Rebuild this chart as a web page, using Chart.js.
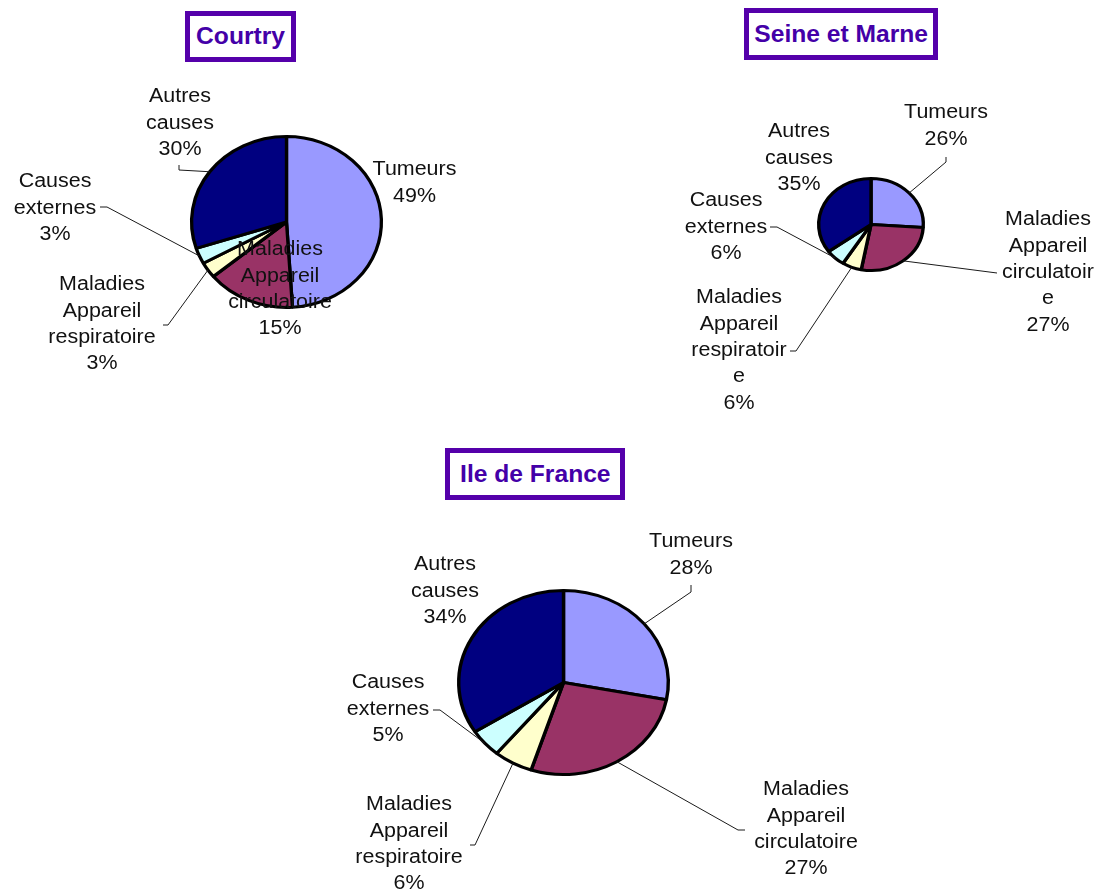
<!DOCTYPE html>
<html>
<head>
<meta charset="utf-8">
<script src="https://cdn.jsdelivr.net/npm/chart.js@4"></script>
<style>
  html, body { margin:0; padding:0; background:#fff; }
  body { width:1098px; height:893px; position:relative; overflow:hidden; }
  canvas.pie { position:absolute; left:0; top:0; }
  .ttl { position:absolute; box-sizing:border-box; border:5px solid #5500aa; background:#fff;
         display:flex; align-items:center; justify-content:center; z-index:5;
         font-family:"Liberation Sans", Arial, sans-serif; font-weight:bold; font-size:23px; color:#4400a8; }
  .ttl span { display:inline-block; transform:scaleX(1.07); white-space:nowrap; }
</style>
</head>
<body>
<script>
// ---------- DATA ----------
const categories = ['Tumeurs', 'Maladies Appareil circulatoire', 'Maladies Appareil respiratoire', 'Causes externes', 'Autres causes'];
const courtryValues = [49, 15, 3, 3, 30];
const seineValues   = [26, 27, 6, 6, 35];
const ileValues     = [28, 27, 6, 5, 34];
const chartTitles   = ['Courtry', 'Seine et Marne', 'Ile de France'];

// ---------- STYLE / LAYOUT ----------
const sliceColors = ['#9999FF', '#993366', '#FFFFCC', '#CCFFFF', '#000080'];
const W = 1098, H = 893;
const LINE_H = 26.3;

const charts = [
  { title: chartTitles[0], values: courtryValues, cx: 286.5, cy: 222, r: 85.5, ratio: 1.11,
    box: { l: 185, t: 11, w: 111, h: 51 },
    labels: [
      { x: 414.5, y: 170, leader: null },
      { x: 280, y: 250, leader: null },
      { x: 102, y: 285, leader: [[163, 325], [168, 325]] },
      { x: 55, y: 182, leader: [[100, 207], [107, 207]] },
      { x: 180, y: 97, leader: [[179, 165], [179, 170]] }
    ] },
  { title: chartTitles[1], values: seineValues, cx: 871, cy: 224.5, r: 46, ratio: 1.137,
    box: { l: 744, t: 8, w: 194, h: 52 },
    labels: [
      { x: 946, y: 113, leader: [[946, 157], [946, 162]] },
      { x: 1048, y: 220, wrap: ['Maladies', 'Appareil', 'circulatoir', 'e'], leader: [[997, 273]] },
      { x: 739, y: 298, wrap: ['Maladies', 'Appareil', 'respiratoir', 'e'], leader: [[790, 351], [796, 351]] },
      { x: 726, y: 201, leader: [[770, 227], [777, 227]] },
      { x: 799, y: 132, leader: null }
    ] },
  { title: chartTitles[2], values: ileValues, cx: 563.5, cy: 682.5, r: 92, ratio: 1.139,
    box: { l: 445, t: 448, w: 180, h: 52 },
    labels: [
      { x: 691, y: 542, leader: [[691, 585], [691, 592]] },
      { x: 806, y: 790, leader: [[745, 830], [738, 830]] },
      { x: 409, y: 805, leader: [[470, 845], [475, 845]] },
      { x: 388, y: 683, leader: [[433, 710], [440, 710]] },
      { x: 445, y: 565, leader: null }
    ] }
];

// Make the pie elliptical (the reference is horizontally stretched)
const ellipsePlugin = {
  id: 'ellipse',
  beforeDatasetsDraw(chart) {
    const cfg = chart.config.options.plugins.ellipse;
    const arc = chart.getDatasetMeta(0).data[0];
    const ctx = chart.ctx;
    ctx.save();
    ctx.translate(arc.x, arc.y);
    ctx.scale(cfg.ratio, 1);
    ctx.translate(-arc.x, -arc.y);
  },
  afterDatasetsDraw(chart) { chart.ctx.restore(); }
};

// Labels with leader lines
const labelPlugin = {
  id: 'pieLabels',
  afterDraw(chart) {
    const cfg = chart.config.options.plugins.pieLabels;
    const ratio = chart.config.options.plugins.ellipse.ratio;
    const ctx = chart.ctx;
    const meta = chart.getDatasetMeta(0);
    const vals = chart.data.datasets[0].data;
    cfg.labels.forEach((lab, i) => {
      const arc = meta.data[i];
      if (lab.leader) {
        const mid = (arc.startAngle + arc.endAngle) / 2;
        const ax = arc.x + arc.outerRadius * ratio * Math.cos(mid);
        const ay = arc.y + arc.outerRadius * Math.sin(mid);
        ctx.save();
        ctx.strokeStyle = '#1a1a1a';
        ctx.lineWidth = 1;
        ctx.beginPath();
        ctx.moveTo(lab.leader[0][0], lab.leader[0][1]);
        for (let k = 1; k < lab.leader.length; k++) ctx.lineTo(lab.leader[k][0], lab.leader[k][1]);
        ctx.lineTo(ax, ay);
        ctx.stroke();
        ctx.restore();
      }
      const lines = (lab.wrap || chart.data.labels[i].split(' ')).concat([vals[i] + '%']);
      ctx.save();
      ctx.fillStyle = '#111';
      ctx.font = '19.5px "Liberation Sans", Arial, sans-serif';
      ctx.textAlign = 'center';
      ctx.textBaseline = 'middle';
      lines.forEach((t, k) => {
        ctx.save();
        ctx.translate(lab.x, lab.y + k * LINE_H);
        ctx.scale(1.1, 1);
        ctx.fillText(t, 0, 0);
        ctx.restore();
      });
      ctx.restore();
    });
  }
};

charts.forEach((c) => {
  const box = document.createElement('div');
  box.className = 'ttl';
  box.style.left = c.box.l + 'px';
  box.style.top = c.box.t + 'px';
  box.style.width = c.box.w + 'px';
  box.style.height = c.box.h + 'px';
  const sp = document.createElement('span');
  sp.textContent = c.title;
  box.appendChild(sp);
  document.body.appendChild(box);

  const cv = document.createElement('canvas');
  cv.className = 'pie';
  cv.width = W; cv.height = H;
  cv.style.width = W + 'px'; cv.style.height = H + 'px';
  document.body.appendChild(cv);

  const hw = 130;
  new Chart(cv, {
    type: 'pie',
    data: {
      labels: categories,
      datasets: [{
        data: c.values,
        backgroundColor: sliceColors,
        borderColor: '#000',
        borderWidth: 3,
        clip: false
      }]
    },
    options: {
      responsive: false,
      animation: false,
      radius: c.r,
      events: [],
      layout: { padding: { left: c.cx - hw, right: W - (c.cx + hw), top: c.cy - hw, bottom: H - (c.cy + hw) } },
      plugins: {
        legend: { display: false },
        tooltip: { enabled: false },
        title: { display: false },
        ellipse: { ratio: c.ratio },
        pieLabels: { labels: c.labels }
      }
    },
    plugins: [ellipsePlugin, labelPlugin]
  });
});
</script>
</body>
</html>
